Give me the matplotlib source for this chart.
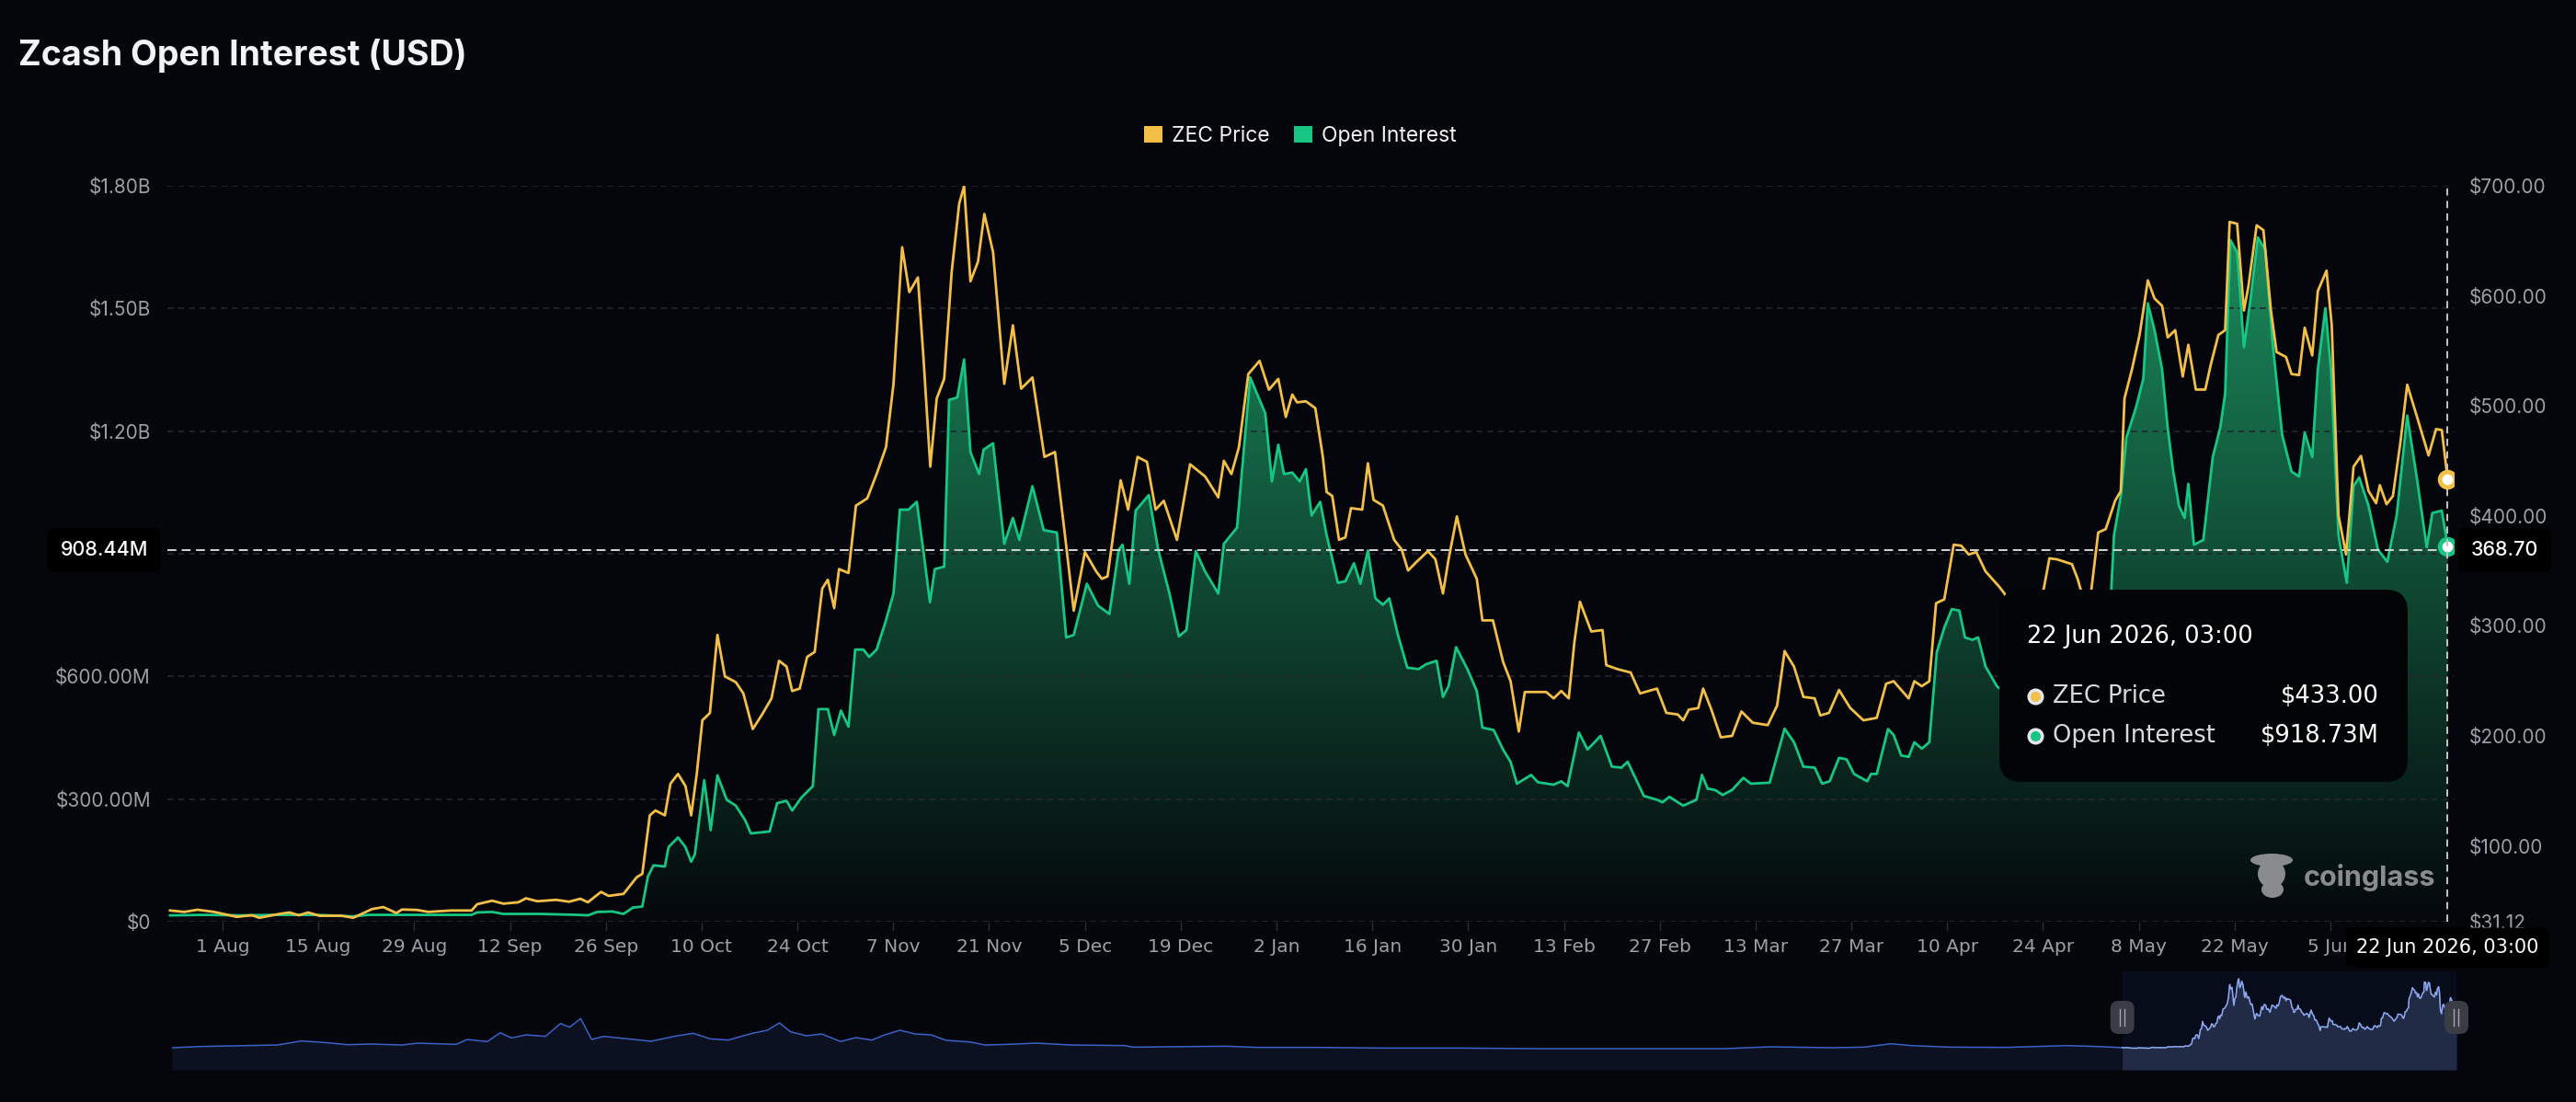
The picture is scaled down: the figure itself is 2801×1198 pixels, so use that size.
import numpy as np
import pandas as pd
import matplotlib
matplotlib.use("Agg")
import matplotlib.pyplot as plt
import matplotlib.dates as mdates
from matplotlib import font_manager as fm
from matplotlib.lines import Line2D
from matplotlib.patches import FancyBboxPatch, Patch, Ellipse
from matplotlib.transforms import IdentityTransform

# --- data ---
START = "2025-08-01"  # day 0 for the offsets below

# ZEC price, USD
price_day = [-7.67, -5.59, -3.67, -1.2, 2.09, 4.29, 5.38, 8.13, 9.77, 11.14, 12.51, 14.16, 17.45, 19.1,
             21.84, 23.49, 25.4, 26.23, 28.42, 30.07, 33.36, 36.38, 37.2, 39.39, 41.04, 43.23, 44.33,
             45.98, 48.72, 50.64, 52.28, 53.38, 55.3, 56.4, 58.59, 60.51, 61.33, 62.43, 63.25, 64.63,
             65.45, 66.55, 67.64, 68.47, 69.29, 70.11, 71.21, 72.31, 73.4,
             75.0, 76.1, 77.47, 78.84, 80.21, 81.31, 82.41, 83.23, 84.33, 85.42, 86.52, 87.62, 88.44,
             89.37, 90.08, 91.46, 92.55, 94.2, 95.57, 96.94, 98.04, 99.3, 100.34, 101.6, 102.43,
             103.41, 104.35, 105.44, 106.54, 107.64, 108.35, 109.28, 110.38, 111.31, 112.58, 114.22,
             115.48, 116.69, 118.34, 120.09, 121.63, 123.0, 124.37, 126.01, 127.66, 128.48, 129.31,
             131.23, 132.32, 133.69, 135.07, 136.33, 137.53, 139.45, 141.37, 143.57, 145.49, 146.31,
             147.41, 148.51, 149.88, 151.52, 152.89, 154.26, 155.36, 156.3, 157.01,
             158.3, 159.67, 160.77, 161.32, 162.14, 163.13, 164.06, 164.88, 166.53, 167.35, 168.17,
             169.55, 171.19, 172.29, 173.22, 174.48, 176.13, 177.22, 178.32, 179.14, 180.35, 181.61,
             183.26, 184.08, 185.62, 187.1, 188.2, 189.4, 190.28, 193.41, 194.5, 195.6, 196.7, 197.52,
             198.34, 199.99, 201.63, 202.18, 203.83, 205.75, 207.12, 209.59, 210.96, 212.61, 213.43,
             214.25, 215.62, 216.34, 217.54, 218.91, 220.56, 221.93, 223.58, 225.77, 227.14, 228.24,
             229.61, 230.98, 232.63, 233.45, 234.71, 236.19, 237.84, 239.76, 241.7,
             243.07, 244.17, 246.36, 247.19, 248.28, 249.38, 250.37, 251.57, 252.95, 254.04, 255.14,
             256.24, 257.61, 259.53, 260.35, 263.09, 266.11, 266.93, 268.03, 270.22, 271.05, 271.87,
             272.42, 273.08, 274.06, 275.16, 276.53, 277.36, 277.9, 279.0, 280.1, 280.65, 281.31,
             282.29, 283.39, 284.21, 285.31, 286.41, 287.23, 288.33, 289.7, 290.52, 291.62, 292.61,
             293.26, 294.36, 295.35, 296.01, 297.21, 298.2, 299.3, 300.12, 301.49, 302.31, 303.41,
             304.23, 305.33, 306.15, 307.42, 308.18, 309.17, 310.27, 311.37, 312.46, 313.56, 314.66,
             315.21, 316.19, 317.12, 318.22, 319.21, 320.69, 322.33, 323.43, 324.26, 325.125]
price_usd = [41.3, 40.0, 42.0, 40.0, 35.5, 37.0, 34.7, 38.0, 39.5, 37.0, 39.5, 36.5, 36.5, 34.7,
             42.6, 44.4, 39.0, 42.2, 41.8, 40.0, 41.3, 41.3, 47.0, 50.2, 47.5, 48.8, 52.4,
             49.7, 51.0, 49.3, 52.0, 48.8, 58.2, 54.6, 56.4, 71.5, 74.6, 127.8, 132.2, 127.8,
             156.6, 165.4, 154.4, 127.8, 165.4, 214.2, 220.8, 291.8, 254.1,
             248.8, 238.6, 206.2, 219.5, 234.1, 268.3, 263.0, 240.8, 243.0, 271.8, 276.3, 333.9, 341.9,
             316.2, 351.6, 348.1, 409.3, 415.9, 438.0, 462.4, 520.0, 644.2, 603.4, 616.7, 542.2,
             444.7, 506.7, 524.5, 622.0, 684.0, 699.6, 613.2, 631.0, 674.4, 639.8, 520.0,
             573.2, 515.6, 525.8, 453.6, 458.0, 387.1, 313.9, 367.1, 349.4, 342.8, 345.0,
             432.3, 405.7, 453.6, 449.1, 405.7, 413.7, 378.2, 446.9, 435.8, 416.8, 450.0,
             438.0, 462.4, 528.9, 540.9, 514.7, 524.5, 489.9, 510.3, 503.2,
             504.1, 497.9, 453.6, 421.7, 418.1, 378.2, 380.4, 407.0, 405.7, 447.8, 414.6,
             409.3, 378.2, 369.4, 350.3, 358.3, 368.0, 360.5, 329.5, 360.5, 399.5, 364.9,
             342.8, 305.0, 305.0, 267.4, 249.7, 204.0, 239.9, 239.9, 234.1, 240.8, 234.1, 285.1,
             321.9, 294.9, 296.2, 264.3, 260.7, 257.6, 238.6, 243.0, 220.9, 219.5, 214.2,
             223.9, 225.3, 243.0, 223.9, 198.7, 200.0, 222.2, 212.0, 209.8, 227.5, 277.1,
             263.0, 235.5, 234.1, 218.6, 220.9, 241.7, 225.3, 214.2, 216.4,
             247.4, 249.7, 234.1, 249.7, 245.2, 249.7, 320.6, 324.1, 373.8, 372.9, 364.9,
             367.1, 349.4, 336.1, 329.5, 294.0, 333.9, 361.4, 360.5, 356.1, 342.8, 325.0,
             320.0, 333.9, 384.9, 388.0, 413.7, 422.5, 506.8, 533.4, 564.4, 586.6, 614.1,
             597.6, 591.0, 562.2, 568.8, 526.7, 555.5, 514.8, 514.8, 537.8, 564.4, 568.8,
             667.2, 665.5, 586.6, 608.7, 664.1, 659.7, 586.6, 548.9, 544.5, 528.9, 528.0,
             571.0, 545.8, 604.3, 622.9, 573.3, 400.4, 364.9, 444.7, 454.5, 422.6, 411.5,
             427.9, 410.6, 418.1, 466.9, 519.2, 489.0, 454.9, 478.9, 478.0, 433.0]

# open interest, million USD
oi_day = [-7.67, -2.84, 2.64, 8.13, 13.61, 19.1, 21.29, 30.07, 36.38, 37.2, 39.39, 41.04, 46.52, 52.01,
          53.38, 54.75, 56.95, 58.59, 59.96, 61.33, 62.16, 62.98, 64.63, 65.17, 66.55, 67.64, 68.47,
          69.01, 70.38, 71.32, 72.31, 73.68,
          75.0, 76.37, 77.19, 79.94, 81.03, 82.41, 83.23, 84.6, 86.25, 87.07, 88.44, 89.37, 90.36,
          91.46, 92.44, 93.65, 94.47, 95.57, 96.94, 98.04, 98.97, 100.23, 101.44, 102.43, 103.36,
          104.07, 105.44, 106.16, 107.36, 108.35, 109.28, 110.55, 111.2, 112.58, 114.22, 115.48,
          116.42, 118.34, 119.98, 121.9, 123.27, 124.37, 126.29, 127.93, 129.58, 130.95, 131.5,
          132.49, 133.42, 135.34, 136.71, 138.36, 139.73, 140.83, 142.2, 143.57, 145.49, 146.31,
          148.23, 150.15, 152.35, 153.33, 154.26, 155.09, 156.3, 157.39,
          158.3, 159.12, 160.38, 161.32, 162.96, 164.06, 165.32, 166.25, 167.35, 168.45, 169.55,
          170.48, 171.74, 173.11, 174.76, 175.85, 177.39, 178.32, 179.14, 180.24, 181.89, 183.26,
          184.08, 185.73, 187.1, 188.2, 189.13, 191.21, 192.2, 194.5, 195.6, 196.53, 198.18,
          199.44, 201.36, 203.01, 204.38, 205.31, 207.67, 209.59, 210.41, 211.4, 213.43, 215.35,
          216.17, 216.99, 218.09, 219.19, 220.56, 222.21, 223.3, 226.05, 228.24, 229.61, 230.98,
          232.63, 233.72, 234.82, 236.19, 237.29, 238.39, 240.31, 240.86,
          241.7, 243.35, 244.17, 245.27, 246.36, 247.19, 248.28, 249.38, 250.48, 251.57, 252.67,
          253.77, 254.59, 255.69, 256.51, 257.61, 259.25, 263.64, 268.03, 272.42, 275.16, 275.98,
          276.37, 277.36, 278.18, 279.55, 280.65, 281.31, 282.29, 283.39, 284.21, 285.03, 285.86,
          286.68, 287.23, 288.05, 289.42, 290.8, 291.89, 292.61, 293.37, 294.36, 295.35, 296.28,
          297.38, 298.48, 299.57, 300.94, 302.31, 303.41, 304.23, 305.33, 306.15, 307.25, 308.07,
          309.17, 310.38, 311.37, 312.19, 313.56, 314.93, 316.3, 317.67, 319.21, 320.69, 322.06,
          322.88, 324.26, 325.125]
oi_musd = [15.5, 16.7, 15.5, 16.7, 16.7, 13.0, 16.7, 16.7, 16.7, 22.7, 23.9, 19.0, 19.0, 16.7,
           15.5, 23.9, 25.0, 19.0, 34.6, 37.0, 111.0, 138.0, 135.0, 182.5, 206.0, 182.5, 146.7,
           164.6, 346.0, 224.0, 358.0, 298.0,
           283.9, 248.0, 216.0, 220.7, 289.9, 295.8, 272.0, 304.0, 331.6, 520.0, 520.0, 456.8, 516.5,
           477.0, 665.6, 665.6, 647.7, 665.6, 737.2, 802.8, 1007.9, 1007.9, 1027.0, 904.0, 781.3,
           862.4, 868.4, 1276.3, 1282.3, 1375.3, 1148.7, 1095.0, 1154.6, 1170.2, 924.4, 987.6,
           934.0, 1065.2, 957.8, 951.9, 695.4, 701.4, 826.6, 773.0, 752.7, 910.1, 922.0,
           826.6, 1005.5, 1043.7, 910.1, 802.8, 697.8, 713.3, 906.5, 856.4, 802.8, 924.4,
           963.8, 1331.2, 1244.0, 1077.1, 1166.6, 1095.0, 1098.6, 1077.1,
           1106.9, 993.6, 1027.0, 945.9, 829.0, 832.6, 876.7, 826.6, 907.7, 790.8, 775.3,
           790.8, 701.4, 621.4, 617.9, 629.8, 638.1, 549.9, 576.1, 671.5, 617.9, 564.2,
           474.7, 468.8, 421.1, 391.2, 337.6, 359.0, 341.1, 335.2, 343.5, 331.6, 462.8,
           421.1, 454.5, 379.3, 376.9, 391.2, 307.7, 298.2, 292.2, 305.4, 283.9, 298.2,
           359.0, 325.6, 322.1, 310.1, 322.1, 351.9, 337.6, 340.0, 472.3, 439.0, 379.3,
           376.9, 337.6, 343.5, 400.8, 397.2, 361.4, 343.5, 361.4,
           361.4, 471.2, 456.8, 406.7, 403.2, 439.0, 423.4, 439.0, 659.6, 719.3, 764.6,
           761.0, 695.4, 689.4, 695.4, 623.8, 576.1, 516.0, 564.0, 540.0, 660.0, 814.7,
           945.9, 1041.3, 1184.5, 1256.0, 1327.6, 1512.5, 1446.9, 1351.4, 1208.3, 1101.0, 1017.5,
           987.6, 1071.1, 922.0, 933.9, 1136.7, 1208.3, 1291.8, 1667.5, 1637.7, 1405.1, 1518.4,
           1673.5, 1643.7, 1411.1, 1190.4, 1101.0, 1089.0, 1196.4, 1136.7, 1351.4, 1500.5, 1351.4,
           945.9, 829.0, 1065.2, 1086.6, 1017.5, 910.1, 880.3, 993.6, 1238.1, 1077.1, 916.1,
           999.6, 1005.5, 918.73]

# navigator: older ZEC price history (USD), same day offsets
hist_day = [-1950, -1922, -1845, -1821, -1798, -1775, -1752, -1721, -1705, -1667, -1656, -1636,
            -1623, -1612, -1597, -1578, -1563, -1554, -1543, -1532, -1520, -1496, -1473, -1450,
            -1431, -1414, -1396, -1372, -1357, -1345, -1334, -1318, -1303, -1284, -1269, -1253,
            -1241, -1225, -1210, -1194, -1179, -1156, -1140, -1117, -1089, -1055, -1001, -993,
            -900, -869, -807, -745, -668, -590, -528, -466, -404, -358, -296, -265, -238, -218,
            -180, -125, -63, -32]
hist_usd = [40, 51.7, 66.4, 104.5, 89.9, 69.3, 75.2, 66.4, 84, 72.3, 119.2, 98.7,
            183.7, 133.9, 163.2, 148.5, 271.7, 236.5, 318.6, 119.2, 148.5, 125.1, 101.6, 148.5,
            177.9, 125.1, 113.3, 177.9, 207.2, 277.6, 192.5, 154.4, 172, 98.7, 136.8, 113.3,
            160.3, 207.2, 172, 163.2, 110.4, 95.7, 66.4, 72.3, 84, 66.4, 60.5, 45.9,
            54.7, 42.9, 42.9, 37, 37, 31.2, 31.2, 31.2, 31.2, 48.8, 40, 45.9, 78.1, 60.5,
            45.9, 42.9, 60.5, 51.7]

x_tick_labels = ["1 Aug", "15 Aug", "29 Aug", "12 Sep", "26 Sep", "10 Oct", "24 Oct", "7 Nov",
                 "21 Nov", "5 Dec", "19 Dec", "2 Jan", "16 Jan", "30 Jan", "13 Feb", "27 Feb",
                 "13 Mar", "27 Mar", "10 Apr", "24 Apr", "8 May", "22 May", "5 Jun"]
oi_ticks = [0, 300, 600, 900, 1200, 1500, 1800]
oi_tick_labels = ["$0", "$300.00M", "$600.00M", "", "$1.20B", "$1.50B", "$1.80B"]
price_ticks = [31.12, 100, 200, 300, 400, 500, 600, 700]
price_tick_labels = ["$31.12", "$100.00", "$200.00", "$300.00", "$400.00", "$500.00", "$600.00", "$700.00"]

cursor_oi = 908.44      # horizontal crosshair, $M
cursor_price = 368.70   # same line on the price scale

# --- style ---
W, H = 2801, 1198
BG = "#05060b"
YELLOW = "#f3bf47"
GREEN = "#16c784"
GRID = "#24262d"
TICKC = "#9c9fa7"

names = {f.name for f in fm.fontManager.ttflist}
SANS = "Inter" if "Inter" in names else "DejaVu Sans"
WIDE = "DejaVu Sans"   # dates and tooltip use a wide face
plt.rcParams["font.family"] = SANS

fig = plt.figure(figsize=(W / 100, H / 100), dpi=100, facecolor=BG)


def pill(x0, y0, x1, y1, r, color, z=20):
    # rounded box in pixel coords (y from top)
    fig.add_artist(FancyBboxPatch((x0, H - y1), x1 - x0, y1 - y0,
                                  boxstyle=f"round,pad=0,rounding_size={r}",
                                  transform=IdentityTransform(), fc=color, ec="none", zorder=z))


t0 = mdates.date2num(pd.Timestamp(START))
xp = t0 + np.array(price_day)
yp = np.array(price_usd)
xo = t0 + np.array(oi_day)
yo = np.array(oi_musd)

# --- main chart ---
ax = fig.add_axes([182 / W, 1 - 1002 / H, (2668 - 182) / W, 800 / H])
ax.set_facecolor(BG)
ax2 = ax.twinx()

# gradient fill under open interest
area = ax.fill_between(xo, 0, yo, color="none", lw=0)
frac = np.linspace(0, 1, 256)[:, None, None]
bot = np.array([5, 8, 12]) / 255
top = np.array([28, 148, 97]) / 255
grad = bot + (top - bot) * frac
im = ax.imshow(grad, extent=[xo[0], xo[-1], 0, 1800], origin="lower", aspect="auto", zorder=1)
im.set_clip_path(area.get_paths()[0], transform=ax.transData)
ax.plot(xo, yo, color=GREEN, lw=2.0, zorder=3, solid_joinstyle="round")
ax2.plot(xp, yp, color=YELLOW, lw=2.0, zorder=3, solid_joinstyle="round")

ax.set_xlim(t0 - 8.06, t0 + 326.0)
ax.set_ylim(0, 1800)
ax2.set_ylim(31.12, 700)

ticks = mdates.date2num(pd.date_range(START, periods=len(x_tick_labels), freq="14D"))
ax.set_xticks(ticks, x_tick_labels, fontfamily=WIDE)
ax.set_yticks(oi_ticks, oi_tick_labels)
ax2.set_yticks(price_ticks, price_tick_labels)
ax.tick_params(axis="x", length=7, width=1, color="#2b2d34", pad=6, labelsize=14.5, labelcolor=TICKC)
ax.tick_params(axis="y", length=0, pad=13, labelsize=15, labelcolor=TICKC)
ax2.tick_params(axis="y", length=0, pad=12, labelsize=15, labelcolor=TICKC)
ax.grid(axis="y", color=GRID, lw=1.2, ls=(0, (4, 3)))
for a in (ax, ax2):
    for s in a.spines.values():
        s.set_visible(False)

# crosshair
xc = xp[-1]
ax.axhline(cursor_oi, color="#d4d4d6", lw=1.4, ls=(0, (5, 3)), zorder=4)
ax2.axvline(xc, color="#c4c5c9", lw=1.4, ls=(0, (4, 3)), zorder=5)
ax2.plot([xc], [yp[-1]], "o", ms=12, mfc="white", mec=YELLOW, mew=3.5, zorder=8)
ax.plot([xo[-1]], [yo[-1]], "o", ms=12, mfc="white", mec=GREEN, mew=3.5, zorder=8)

box = dict(boxstyle="round,pad=0.65,rounding_size=0.35", fc="#000000", ec="none")
ax2.text(-21 / 2486, cursor_oi / 1800, f"{cursor_oi:.2f}M", transform=ax.transAxes,
         ha="right", va="center", color="white", fontsize=15.5, fontweight="medium", bbox=box, zorder=10)
ax2.text(1 + 19 / 2486, cursor_price, f"{cursor_price:.2f}", transform=ax2.get_yaxis_transform(),
         ha="left", va="center", color="white", fontsize=15.5, fontweight="medium", bbox=box, zorder=10)
ts = pd.Timestamp(START) + pd.Timedelta(days=price_day[-1])
when = f"{ts.day} {ts:%b %Y, %H:%M}"
ax2.text(xc, -0.035, when, transform=ax2.get_xaxis_transform(), ha="center", va="center",
         color="white", fontsize=15, fontfamily=WIDE,
         bbox=dict(boxstyle="round,pad=0.55,rounding_size=0.3", fc="#000000", ec="none"), zorder=10)

# --- navigator ---
axn = fig.add_axes([187 / W, 1 - 1163 / H, (2671 - 187) / W, (1163 - 1056) / H])
axn.set_facecolor(BG)
axn.axis("off")
nx = t0 + np.concatenate([hist_day, price_day])
ny = np.concatenate([hist_usd, price_usd])
axn.set_xlim(nx[0], nx[-1])
axn.set_ylim(-171, 770)
axn.axvspan(xp[0], xp[-1], color="#070c1a", lw=0)
axn.fill_between(nx, -171, ny, color="#0b1121", lw=0)
axn.plot(nx, ny, color="#3a62c6", lw=1.1)
axn.fill_between(xp, -171, yp, color="#222b46", lw=0)
axn.plot(xp, yp, color="#93aae6", lw=1.0)
for xe in (xp[0], xp[-1]):
    xd = axn.transData.transform((xe, 0))[0]
    pill(xd - 13, 1088, xd + 13, 1124, 9, "#3a3c46", z=6)
    for dx in (-2.5, 2.5):
        fig.add_artist(Line2D([xd + dx, xd + dx], [H - 1097, H - 1115], transform=IdentityTransform(),
                              color="#a4a6ae", lw=1, zorder=7))

# --- title, legend, watermark ---
fig.text(20 / W, 1 - 71 / H, "Zcash Open Interest (USD)", fontsize=27, fontweight="bold",
         color="#f1f3f6", va="baseline")
fig.legend(handles=[Patch(fc=YELLOW, ec="none", label="ZEC Price"),
                    Patch(fc=GREEN, ec="none", label="Open Interest")],
           loc="center", bbox_to_anchor=(1414 / W, 1 - 148 / H), ncol=2, frameon=False,
           fontsize=16.5, labelcolor="#f2f2f2", handlelength=0.85, handleheight=0.85,
           handletextpad=0.45, columnspacing=1.15)

wm = "#8a8b8f"
for cx, cy, w, h in [(2470, 935, 46, 14), (2470, 950, 30, 30), (2471, 967, 24, 18)]:
    fig.add_artist(Ellipse((cx, H - cy), w, h, transform=IdentityTransform(), fc=wm, ec="none", zorder=4))
fig.text(2505 / W, 1 - 963 / H, "coinglass", fontsize=22, fontweight="bold", color=wm,
         va="baseline", zorder=4)

# --- tooltip ---
pill(2174, 641, 2618, 850, 24, "#030406", z=20)
fig.text(2204 / W, 1 - 692 / H, when, fontsize=18.5, fontfamily=WIDE, color="white",
         va="center", zorder=21)
rows = [("ZEC Price", f"${price_usd[-1]:.2f}", YELLOW, 757),
        ("Open Interest", f"${oi_musd[-1]:.2f}M", GREEN, 800)]
for name, val, col, yy in rows:
    fig.add_artist(Line2D([2213 / W], [1 - yy / H], marker="o", ms=10.5, mfc=col, mec="#e4e6eb",
                          mew=2.5, transform=fig.transFigure, zorder=21))
    fig.text(2232 / W, 1 - yy / H, name, fontsize=18.5, fontfamily=WIDE, color="#d6d9df",
             va="center", zorder=21)
    fig.text(2587 / W, 1 - yy / H, val, fontsize=18.5, fontfamily=WIDE, color="white",
             va="center", ha="right", zorder=21)

fig.savefig("out.png", dpi=100, facecolor=BG)
